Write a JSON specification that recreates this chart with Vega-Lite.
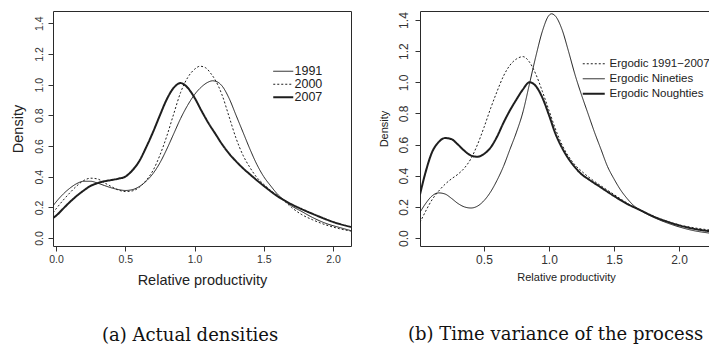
{
  "$schema": "https://vega.github.io/schema/vega-lite/v6.json",
  "padding": {"left": 9, "top": 10, "right": 0, "bottom": 0},
  "bounds": "flush",
  "spacing": 69,
  "config": {
    "font": "Liberation Sans",
    "view": {"stroke": "#2a2a2a", "strokeWidth": 1},
    "axis": {"domain": false, "grid": false, "tickColor": "#333", "labelColor": "#333", "titleColor": "#222", "titleFontWeight": "normal", "labelFont": "Liberation Sans", "titleFont": "Liberation Sans", "tickSize": 5},
    "title": {"font": "DejaVu Serif", "fontSize": 18, "fontWeight": "normal", "color": "#111"}
  },
  "resolve": {"scale": {"strokeDash": "independent"}, "legend": {"strokeDash": "independent"}},
  "datasets": {
    "actual": [
      {"series": "1991", "x": -0.022, "density": 0.21},
      {"series": "1991", "x": 0.0, "density": 0.235},
      {"series": "1991", "x": 0.05, "density": 0.285},
      {"series": "1991", "x": 0.1, "density": 0.325},
      {"series": "1991", "x": 0.15, "density": 0.355},
      {"series": "1991", "x": 0.2, "density": 0.37},
      {"series": "1991", "x": 0.25, "density": 0.37},
      {"series": "1991", "x": 0.3, "density": 0.358},
      {"series": "1991", "x": 0.35, "density": 0.342},
      {"series": "1991", "x": 0.4, "density": 0.327},
      {"series": "1991", "x": 0.45, "density": 0.316},
      {"series": "1991", "x": 0.5, "density": 0.31},
      {"series": "1991", "x": 0.55, "density": 0.315},
      {"series": "1991", "x": 0.6, "density": 0.335},
      {"series": "1991", "x": 0.65, "density": 0.37},
      {"series": "1991", "x": 0.7, "density": 0.42},
      {"series": "1991", "x": 0.75, "density": 0.49},
      {"series": "1991", "x": 0.8, "density": 0.58},
      {"series": "1991", "x": 0.85, "density": 0.68},
      {"series": "1991", "x": 0.9, "density": 0.78},
      {"series": "1991", "x": 0.95, "density": 0.865},
      {"series": "1991", "x": 1.0, "density": 0.935},
      {"series": "1991", "x": 1.05, "density": 0.985},
      {"series": "1991", "x": 1.1, "density": 1.017},
      {"series": "1991", "x": 1.13, "density": 1.025},
      {"series": "1991", "x": 1.17, "density": 1.015},
      {"series": "1991", "x": 1.2, "density": 0.99},
      {"series": "1991", "x": 1.25, "density": 0.91},
      {"series": "1991", "x": 1.3, "density": 0.8},
      {"series": "1991", "x": 1.35, "density": 0.69},
      {"series": "1991", "x": 1.4, "density": 0.58},
      {"series": "1991", "x": 1.45, "density": 0.48},
      {"series": "1991", "x": 1.5, "density": 0.4},
      {"series": "1991", "x": 1.55, "density": 0.34},
      {"series": "1991", "x": 1.6, "density": 0.285},
      {"series": "1991", "x": 1.65, "density": 0.245},
      {"series": "1991", "x": 1.7, "density": 0.21},
      {"series": "1991", "x": 1.77, "density": 0.175},
      {"series": "1991", "x": 1.85, "density": 0.135},
      {"series": "1991", "x": 1.95, "density": 0.095},
      {"series": "1991", "x": 2.05, "density": 0.068},
      {"series": "1991", "x": 2.13, "density": 0.048},
      {"series": "2000", "x": -0.022, "density": 0.165},
      {"series": "2000", "x": 0.0, "density": 0.19},
      {"series": "2000", "x": 0.05, "density": 0.245},
      {"series": "2000", "x": 0.1, "density": 0.295},
      {"series": "2000", "x": 0.15, "density": 0.34},
      {"series": "2000", "x": 0.2, "density": 0.375},
      {"series": "2000", "x": 0.25, "density": 0.39},
      {"series": "2000", "x": 0.3, "density": 0.385},
      {"series": "2000", "x": 0.35, "density": 0.36},
      {"series": "2000", "x": 0.4, "density": 0.335},
      {"series": "2000", "x": 0.45, "density": 0.313},
      {"series": "2000", "x": 0.5, "density": 0.303},
      {"series": "2000", "x": 0.55, "density": 0.307},
      {"series": "2000", "x": 0.6, "density": 0.33},
      {"series": "2000", "x": 0.65, "density": 0.375},
      {"series": "2000", "x": 0.7, "density": 0.44},
      {"series": "2000", "x": 0.75, "density": 0.54},
      {"series": "2000", "x": 0.8, "density": 0.665},
      {"series": "2000", "x": 0.85, "density": 0.81},
      {"series": "2000", "x": 0.9, "density": 0.95},
      {"series": "2000", "x": 0.95, "density": 1.045},
      {"series": "2000", "x": 1.0, "density": 1.1},
      {"series": "2000", "x": 1.04, "density": 1.12},
      {"series": "2000", "x": 1.08, "density": 1.11},
      {"series": "2000", "x": 1.12, "density": 1.07},
      {"series": "2000", "x": 1.15, "density": 1.03},
      {"series": "2000", "x": 1.2, "density": 0.93},
      {"series": "2000", "x": 1.25, "density": 0.79},
      {"series": "2000", "x": 1.3, "density": 0.65},
      {"series": "2000", "x": 1.35, "density": 0.54},
      {"series": "2000", "x": 1.4, "density": 0.46},
      {"series": "2000", "x": 1.45, "density": 0.395},
      {"series": "2000", "x": 1.5, "density": 0.35},
      {"series": "2000", "x": 1.55, "density": 0.31},
      {"series": "2000", "x": 1.6, "density": 0.275},
      {"series": "2000", "x": 1.65, "density": 0.24},
      {"series": "2000", "x": 1.7, "density": 0.2},
      {"series": "2000", "x": 1.77, "density": 0.155},
      {"series": "2000", "x": 1.85, "density": 0.12},
      {"series": "2000", "x": 1.95, "density": 0.085},
      {"series": "2000", "x": 2.05, "density": 0.06},
      {"series": "2000", "x": 2.13, "density": 0.045},
      {"series": "2007", "x": -0.022, "density": 0.13},
      {"series": "2007", "x": 0.0, "density": 0.145},
      {"series": "2007", "x": 0.05, "density": 0.19},
      {"series": "2007", "x": 0.1, "density": 0.235},
      {"series": "2007", "x": 0.15, "density": 0.275},
      {"series": "2007", "x": 0.2, "density": 0.31},
      {"series": "2007", "x": 0.25, "density": 0.34},
      {"series": "2007", "x": 0.3, "density": 0.358},
      {"series": "2007", "x": 0.35, "density": 0.37},
      {"series": "2007", "x": 0.4, "density": 0.378},
      {"series": "2007", "x": 0.45, "density": 0.387},
      {"series": "2007", "x": 0.5, "density": 0.4},
      {"series": "2007", "x": 0.55, "density": 0.44},
      {"series": "2007", "x": 0.6, "density": 0.5},
      {"series": "2007", "x": 0.65, "density": 0.59},
      {"series": "2007", "x": 0.7, "density": 0.69},
      {"series": "2007", "x": 0.75, "density": 0.8},
      {"series": "2007", "x": 0.8, "density": 0.905},
      {"series": "2007", "x": 0.85, "density": 0.98},
      {"series": "2007", "x": 0.9, "density": 1.01},
      {"series": "2007", "x": 0.95, "density": 0.98},
      {"series": "2007", "x": 1.0, "density": 0.915},
      {"series": "2007", "x": 1.05, "density": 0.83},
      {"series": "2007", "x": 1.1, "density": 0.75},
      {"series": "2007", "x": 1.15, "density": 0.68},
      {"series": "2007", "x": 1.2, "density": 0.61},
      {"series": "2007", "x": 1.25, "density": 0.55},
      {"series": "2007", "x": 1.3, "density": 0.5},
      {"series": "2007", "x": 1.35, "density": 0.455},
      {"series": "2007", "x": 1.4, "density": 0.415},
      {"series": "2007", "x": 1.5, "density": 0.34},
      {"series": "2007", "x": 1.6, "density": 0.272},
      {"series": "2007", "x": 1.7, "density": 0.22},
      {"series": "2007", "x": 1.8, "density": 0.178},
      {"series": "2007", "x": 1.9, "density": 0.14},
      {"series": "2007", "x": 2.0, "density": 0.105},
      {"series": "2007", "x": 2.13, "density": 0.072}
    ],
    "ergodic": [
      {"series": "Ergodic Nineties", "x": 0.008, "density": 0.165},
      {"series": "Ergodic Nineties", "x": 0.05, "density": 0.22},
      {"series": "Ergodic Nineties", "x": 0.1, "density": 0.27},
      {"series": "Ergodic Nineties", "x": 0.15, "density": 0.29},
      {"series": "Ergodic Nineties", "x": 0.2, "density": 0.283},
      {"series": "Ergodic Nineties", "x": 0.25, "density": 0.255},
      {"series": "Ergodic Nineties", "x": 0.3, "density": 0.222},
      {"series": "Ergodic Nineties", "x": 0.35, "density": 0.2},
      {"series": "Ergodic Nineties", "x": 0.4, "density": 0.193},
      {"series": "Ergodic Nineties", "x": 0.45, "density": 0.205},
      {"series": "Ergodic Nineties", "x": 0.5, "density": 0.24},
      {"series": "Ergodic Nineties", "x": 0.55, "density": 0.295},
      {"series": "Ergodic Nineties", "x": 0.6, "density": 0.37},
      {"series": "Ergodic Nineties", "x": 0.65, "density": 0.46},
      {"series": "Ergodic Nineties", "x": 0.7, "density": 0.57},
      {"series": "Ergodic Nineties", "x": 0.75, "density": 0.68},
      {"series": "Ergodic Nineties", "x": 0.8, "density": 0.81},
      {"series": "Ergodic Nineties", "x": 0.85, "density": 0.99},
      {"series": "Ergodic Nineties", "x": 0.9, "density": 1.17},
      {"series": "Ergodic Nineties", "x": 0.95, "density": 1.33},
      {"series": "Ergodic Nineties", "x": 1.0, "density": 1.43},
      {"series": "Ergodic Nineties", "x": 1.02, "density": 1.44},
      {"series": "Ergodic Nineties", "x": 1.05, "density": 1.425},
      {"series": "Ergodic Nineties", "x": 1.1, "density": 1.34},
      {"series": "Ergodic Nineties", "x": 1.15, "density": 1.2},
      {"series": "Ergodic Nineties", "x": 1.2, "density": 1.05},
      {"series": "Ergodic Nineties", "x": 1.25, "density": 0.92},
      {"series": "Ergodic Nineties", "x": 1.3, "density": 0.8},
      {"series": "Ergodic Nineties", "x": 1.35, "density": 0.68},
      {"series": "Ergodic Nineties", "x": 1.4, "density": 0.57},
      {"series": "Ergodic Nineties", "x": 1.45, "density": 0.46},
      {"series": "Ergodic Nineties", "x": 1.5, "density": 0.38},
      {"series": "Ergodic Nineties", "x": 1.55, "density": 0.31},
      {"series": "Ergodic Nineties", "x": 1.6, "density": 0.255},
      {"series": "Ergodic Nineties", "x": 1.65, "density": 0.21},
      {"series": "Ergodic Nineties", "x": 1.7, "density": 0.18},
      {"series": "Ergodic Nineties", "x": 1.8, "density": 0.135},
      {"series": "Ergodic Nineties", "x": 1.9, "density": 0.1},
      {"series": "Ergodic Nineties", "x": 2.0, "density": 0.072},
      {"series": "Ergodic Nineties", "x": 2.1, "density": 0.05},
      {"series": "Ergodic Nineties", "x": 2.254, "density": 0.03},
      {"series": "Ergodic 1991−2007", "x": 0.008, "density": 0.1},
      {"series": "Ergodic 1991−2007", "x": 0.05, "density": 0.17},
      {"series": "Ergodic 1991−2007", "x": 0.1, "density": 0.245},
      {"series": "Ergodic 1991−2007", "x": 0.15, "density": 0.3},
      {"series": "Ergodic 1991−2007", "x": 0.2, "density": 0.345},
      {"series": "Ergodic 1991−2007", "x": 0.25, "density": 0.38},
      {"series": "Ergodic 1991−2007", "x": 0.3, "density": 0.41},
      {"series": "Ergodic 1991−2007", "x": 0.35, "density": 0.45},
      {"series": "Ergodic 1991−2007", "x": 0.4, "density": 0.51},
      {"series": "Ergodic 1991−2007", "x": 0.45, "density": 0.6},
      {"series": "Ergodic 1991−2007", "x": 0.5, "density": 0.71},
      {"series": "Ergodic 1991−2007", "x": 0.55, "density": 0.83},
      {"series": "Ergodic 1991−2007", "x": 0.6, "density": 0.94},
      {"series": "Ergodic 1991−2007", "x": 0.65, "density": 1.04},
      {"series": "Ergodic 1991−2007", "x": 0.7, "density": 1.11},
      {"series": "Ergodic 1991−2007", "x": 0.75, "density": 1.15},
      {"series": "Ergodic 1991−2007", "x": 0.8, "density": 1.165},
      {"series": "Ergodic 1991−2007", "x": 0.85, "density": 1.13},
      {"series": "Ergodic 1991−2007", "x": 0.9, "density": 1.05},
      {"series": "Ergodic 1991−2007", "x": 0.95, "density": 0.94},
      {"series": "Ergodic 1991−2007", "x": 1.0, "density": 0.82},
      {"series": "Ergodic 1991−2007", "x": 1.05, "density": 0.7},
      {"series": "Ergodic 1991−2007", "x": 1.1, "density": 0.6},
      {"series": "Ergodic 1991−2007", "x": 1.15, "density": 0.525},
      {"series": "Ergodic 1991−2007", "x": 1.2, "density": 0.47},
      {"series": "Ergodic 1991−2007", "x": 1.25, "density": 0.43},
      {"series": "Ergodic 1991−2007", "x": 1.3, "density": 0.395},
      {"series": "Ergodic 1991−2007", "x": 1.4, "density": 0.335},
      {"series": "Ergodic 1991−2007", "x": 1.5, "density": 0.28},
      {"series": "Ergodic 1991−2007", "x": 1.6, "density": 0.225},
      {"series": "Ergodic 1991−2007", "x": 1.7, "density": 0.18},
      {"series": "Ergodic 1991−2007", "x": 1.8, "density": 0.14},
      {"series": "Ergodic 1991−2007", "x": 1.9, "density": 0.11},
      {"series": "Ergodic 1991−2007", "x": 2.0, "density": 0.085},
      {"series": "Ergodic 1991−2007", "x": 2.1, "density": 0.068},
      {"series": "Ergodic 1991−2007", "x": 2.254, "density": 0.05},
      {"series": "Ergodic Noughties", "x": 0.008, "density": 0.28},
      {"series": "Ergodic Noughties", "x": 0.05, "density": 0.42},
      {"series": "Ergodic Noughties", "x": 0.1, "density": 0.55},
      {"series": "Ergodic Noughties", "x": 0.15, "density": 0.615},
      {"series": "Ergodic Noughties", "x": 0.2, "density": 0.642},
      {"series": "Ergodic Noughties", "x": 0.25, "density": 0.635},
      {"series": "Ergodic Noughties", "x": 0.3, "density": 0.6},
      {"series": "Ergodic Noughties", "x": 0.35, "density": 0.56},
      {"series": "Ergodic Noughties", "x": 0.4, "density": 0.53},
      {"series": "Ergodic Noughties", "x": 0.45, "density": 0.522},
      {"series": "Ergodic Noughties", "x": 0.5, "density": 0.54},
      {"series": "Ergodic Noughties", "x": 0.55, "density": 0.58},
      {"series": "Ergodic Noughties", "x": 0.6, "density": 0.65},
      {"series": "Ergodic Noughties", "x": 0.65, "density": 0.74},
      {"series": "Ergodic Noughties", "x": 0.7, "density": 0.82},
      {"series": "Ergodic Noughties", "x": 0.75, "density": 0.89},
      {"series": "Ergodic Noughties", "x": 0.8, "density": 0.955},
      {"series": "Ergodic Noughties", "x": 0.85, "density": 1.0},
      {"series": "Ergodic Noughties", "x": 0.9, "density": 0.975},
      {"series": "Ergodic Noughties", "x": 0.95, "density": 0.9},
      {"series": "Ergodic Noughties", "x": 1.0, "density": 0.79},
      {"series": "Ergodic Noughties", "x": 1.05, "density": 0.67},
      {"series": "Ergodic Noughties", "x": 1.1, "density": 0.58},
      {"series": "Ergodic Noughties", "x": 1.15, "density": 0.51},
      {"series": "Ergodic Noughties", "x": 1.2, "density": 0.455},
      {"series": "Ergodic Noughties", "x": 1.25, "density": 0.41},
      {"series": "Ergodic Noughties", "x": 1.3, "density": 0.38},
      {"series": "Ergodic Noughties", "x": 1.4, "density": 0.325},
      {"series": "Ergodic Noughties", "x": 1.5, "density": 0.27},
      {"series": "Ergodic Noughties", "x": 1.6, "density": 0.22},
      {"series": "Ergodic Noughties", "x": 1.7, "density": 0.18},
      {"series": "Ergodic Noughties", "x": 1.8, "density": 0.14},
      {"series": "Ergodic Noughties", "x": 1.9, "density": 0.108},
      {"series": "Ergodic Noughties", "x": 2.0, "density": 0.082},
      {"series": "Ergodic Noughties", "x": 2.1, "density": 0.062},
      {"series": "Ergodic Noughties", "x": 2.254, "density": 0.042}
    ]
  },
  "hconcat": [
    {
      "width": 298,
      "height": 235,
      "title": {"text": "(a) Actual densities", "orient": "bottom", "anchor": "start", "frame": "group", "dx": 49, "offset": 40},
      "data": {"name": "actual"},
      "mark": {"type": "line", "interpolate": "monotone", "color": "#1e1e1e", "clip": true},
      "encoding": {
        "x": {"field": "x", "type": "quantitative", "scale": {"domain": [-0.022, 2.13], "nice": false, "zero": false},
              "axis": {"values": [0, 0.5, 1, 1.5, 2], "format": ".1f", "title": "Relative productivity", "labelFontSize": 10.5, "titleFontSize": 14.5, "labelPadding": 3.5, "titlePadding": 8, "labelFlush": false}},
        "y": {"field": "density", "type": "quantitative", "scale": {"domain": [-0.052, 1.48], "nice": false, "zero": false},
              "axis": {"values": [0, 0.2, 0.4, 0.6, 0.8, 1.0, 1.2, 1.4], "format": ".1f", "title": "Density", "labelAngle": 270, "labelAlign": "center", "labelBaseline": "bottom", "labelFontSize": 10.5, "titleFontSize": 14.5, "labelPadding": 4, "titlePadding": 9}},
        "strokeDash": {"field": "series", "type": "nominal",
              "scale": {"domain": ["1991", "2000", "2007"], "range": [[1, 0], [2, 2], [1, 0]]},
              "legend": {"orient": "none", "legendX": 224, "legendY": 54, "title": null, "symbolType": "stroke", "symbolSize": 400, "symbolStrokeColor": "#1e1e1e", "symbolStrokeWidth": 1, "labelFontSize": 12.5, "labelColor": "#222", "labelOffset": 5, "rowPadding": 0, "padding": 0,
                         "encode": {"symbols": {"update": {"strokeWidth": {"signal": "datum.value === '2007' ? 2 : 1"}}}}}},
        "strokeWidth": {"condition": {"test": "datum.series === '2007'", "value": 2}, "value": 1}
      }
    },
    {
      "width": 292,
      "height": 235,
      "title": {"text": "(b) Time variance of the process", "orient": "bottom", "anchor": "start", "frame": "group", "dx": -12, "offset": 43},
      "data": {"name": "ergodic"},
      "mark": {"type": "line", "interpolate": "monotone", "color": "#1e1e1e", "clip": true},
      "encoding": {
        "x": {"field": "x", "type": "quantitative", "scale": {"domain": [0.008, 2.254], "nice": false, "zero": false},
              "axis": {"values": [0.5, 1, 1.5, 2], "format": ".1f", "title": "Relative productivity", "labelFontSize": 12, "titleFontSize": 11, "labelPadding": 3.8, "titlePadding": 6, "labelFlush": false}},
        "y": {"field": "density", "type": "quantitative", "scale": {"domain": [-0.051, 1.458], "nice": false, "zero": false},
              "axis": {"values": [0, 0.2, 0.4, 0.6, 0.8, 1.0, 1.2, 1.4], "format": ".1f", "title": "Density", "labelAngle": 270, "labelAlign": "center", "labelBaseline": "bottom", "labelFontSize": 12, "titleFontSize": 11, "labelPadding": 5, "titlePadding": 7.5}},
        "strokeDash": {"field": "series", "type": "nominal",
              "scale": {"domain": ["Ergodic 1991−2007", "Ergodic Nineties", "Ergodic Noughties"], "range": [[2, 2], [1, 0], [1, 0]]},
              "legend": {"orient": "none", "legendX": 168, "legendY": 47, "title": null, "symbolType": "stroke", "symbolSize": 484, "symbolStrokeColor": "#1e1e1e", "symbolStrokeWidth": 1, "labelFontSize": 11.5, "labelColor": "#222", "labelOffset": 10, "rowPadding": 2, "padding": 0,
                         "encode": {"symbols": {"update": {"strokeWidth": {"signal": "datum.value === 'Ergodic Noughties' ? 2 : 1"}}}}}},
        "strokeWidth": {"condition": {"test": "datum.series === 'Ergodic Noughties'", "value": 2}, "value": 1}
      }
    }
  ]
}
